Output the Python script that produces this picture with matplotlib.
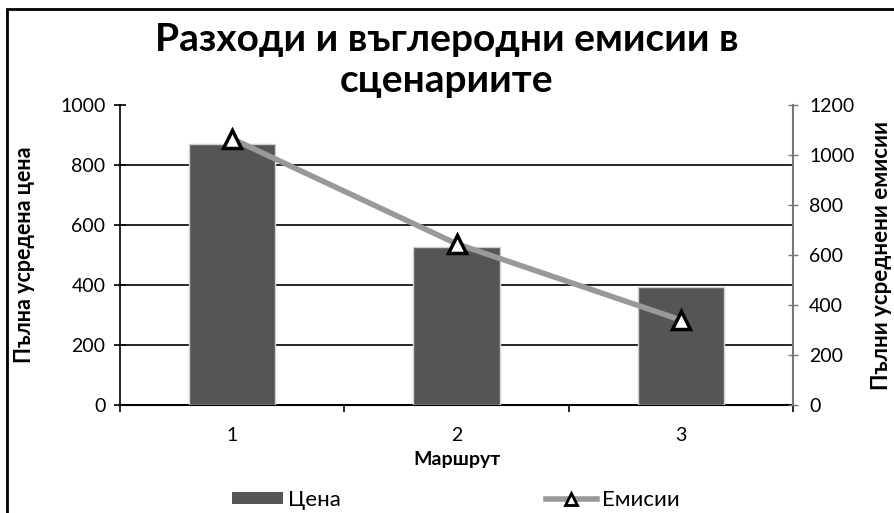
import matplotlib.pyplot as plt
from matplotlib.patches import Rectangle
from matplotlib.lines import Line2D
from matplotlib.patches import Patch

routes = ['1', '2', '3']
price = [870, 527, 393]
emissions = [1065, 645, 340]

title = 'Разходи и въглеродни емисии в\nсценариите'
ylabel_left = 'Пълна усредена цена'
ylabel_right = 'Пълни усреднени емисии'
xlabel = 'Маршрут'
legend_labels = ['Цена', 'Емисии']

plt.rcParams['font.family'] = ['Lato', 'DejaVu Sans']

fig = plt.figure(figsize=(8.94, 5.13), dpi=100)
ax = fig.add_axes([120 / 894, 1 - 405 / 513, 673 / 894, 300 / 513])

x = [0, 1, 2]
ax.bar(x, price, width=0.385, color='#555555', edgecolor='#d0d0d0', linewidth=1, zorder=3)
ax.set_xlim(-0.5, 2.5)
ax.set_ylim(0, 1000)
ax.set_yticks([0, 200, 400, 600, 800, 1000])
ax.yaxis.grid(True, color='black', linewidth=1.2, zorder=0)
ax.get_ygridlines()[-1].set_visible(False)
ax.get_ygridlines()[0].set_visible(False)
ax.set_xticks(x)
ax.set_xticklabels(routes)
ax.set_xticks([-0.5, 0.5, 1.5, 2.5], minor=True)
ax.tick_params(axis='x', which='major', length=0, labelsize=14, pad=16)
ax.tick_params(axis='x', which='minor', length=5, width=1.2, direction='out')
ax.tick_params(axis='y', length=9, width=1.2, direction='inout', labelsize=14, pad=6)
ax.spines['top'].set_visible(False)
ax.spines['right'].set_visible(False)
ax.spines['left'].set_linewidth(1.2)
ax.spines['bottom'].set_linewidth(1.5)
ax.set_ylabel(ylabel_left, fontsize=15.5, fontweight='bold', labelpad=18)
ax.set_xlabel(xlabel, fontsize=14, fontweight='bold', labelpad=5)

ax2 = ax.twinx()
ax2.plot(x, emissions, color='#999999', linewidth=4, zorder=4)
ax2.plot(x, emissions, linestyle='none', marker='^', markersize=13,
         markerfacecolor='white', markeredgecolor='black', markeredgewidth=2.5, zorder=5)
ax2.set_ylim(0, 1200)
ax2.set_yticks([0, 200, 400, 600, 800, 1000, 1200])
ax2.tick_params(axis='y', length=7, width=1, direction='inout', color='#777777',
                labelsize=14, pad=8)
ax2.spines['right'].set_color('#777777')
ax2.spines['right'].set_linewidth(1.5)
ax2.spines['top'].set_visible(False)
ax2.spines['left'].set_visible(False)
ax2.spines['bottom'].set_visible(False)
ax2.set_ylabel(ylabel_right, fontsize=16, fontweight='bold', labelpad=12)

fig.text(0.5, 1 - 60 / 513, title, ha='center', va='center', fontsize=28,
         fontweight='bold', linespacing=1.2)

handles = [Patch(facecolor='#555555', edgecolor='none'),
           Line2D([0], [0], color='#999999', linewidth=4, marker='^', markersize=8,
                  markerfacecolor='white', markeredgecolor='black', markeredgewidth=2)]
fig.legend(handles, legend_labels, loc='center', bbox_to_anchor=(0.51, 1 - 500 / 513),
           ncol=2, frameon=False, fontsize=16, columnspacing=9.2, handlelength=2.3,
           handleheight=0.4, handletextpad=0.25)

fig.patches.append(Rectangle((7 / 894, -0.1), 2, 1.1 - 9 / 513, transform=fig.transFigure,
                             fill=False, edgecolor='black', linewidth=2))

fig.savefig('out.png', dpi=100)
